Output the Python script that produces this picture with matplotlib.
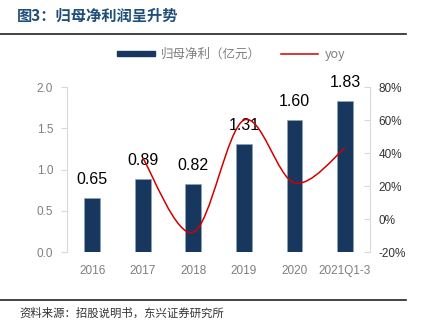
import numpy as np
import matplotlib.pyplot as plt
from matplotlib.path import Path
from matplotlib.patches import PathPatch
from matplotlib.lines import Line2D

plt.rcParams['font.family'] = ['Liberation Sans', 'Noto Sans CJK SC', 'DejaVu Sans']

years = ['2016', '2017', '2018', '2019', '2020', '2021Q1-3']
profit = [0.65, 0.89, 0.82, 1.31, 1.60, 1.83]
yoy = [37, -8, 60, 22, 43]  # 从2017开始, %

bar_color = '#17375E'
red = '#D00000'
grey = '#7F7F7F'

fig = plt.figure(figsize=(4.24, 3.30), dpi=100)
ax = fig.add_axes([0.158, 0.236, 0.715, 0.50])
x = np.arange(len(years))
ax.bar(x, profit, width=0.31, color=bar_color, edgecolor='#8EA3BD', linewidth=0.5, zorder=2)
for xi, v in zip(x, profit):
    ax.annotate(f'{v:.2f}', (xi, v), xytext=(0, 8), textcoords='offset points',
                ha='center', va='bottom', fontsize=11.5, color='black', zorder=5)

ax.set_xlim(-0.5, len(years) - 0.5)
ax.set_ylim(0, 2.0)
ax.set_yticks([0, 0.5, 1.0, 1.5, 2.0])
ax.set_yticklabels(['0.0', '0.5', '1.0', '1.5', '2.0'])
ax.set_xticks(x)
ax.set_xticklabels(years)
ax.tick_params(axis='y', colors='#D9D9D9', labelcolor=grey, labelsize=8.5, length=4, pad=6)
ax.tick_params(axis='x', length=0, labelcolor=grey, labelsize=8.5, pad=9)
for s in ['top', 'bottom', 'right']:
    ax.spines[s].set_visible(False)
ax.spines['left'].set_color('#D9D9D9')

ax2 = ax.twinx()
ax2.set_ylim(-20, 80)
ax2.set_yticks([-20, 0, 20, 40, 60, 80])
ax2.set_yticklabels([f'{t}%' for t in [-20, 0, 20, 40, 60, 80]])
ax2.tick_params(axis='y', colors='#D9D9D9', labelcolor='#333333', labelsize=8.5,
                length=4, direction='in', pad=6)
for s in ['top', 'bottom', 'left']:
    ax2.spines[s].set_visible(False)
ax2.spines['right'].set_color('#D9D9D9')

# 平滑曲线 (Catmull-Rom -> Bezier)
px = list(x[1:])
py = list(yoy)
verts = [(px[0], py[0])]
codes = [Path.MOVETO]
n = len(px)
for i in range(n - 1):
    p0 = (px[max(i - 1, 0)], py[max(i - 1, 0)])
    p1 = (px[i], py[i])
    p2 = (px[i + 1], py[i + 1])
    p3 = (px[min(i + 2, n - 1)], py[min(i + 2, n - 1)])
    c1 = (p1[0] + (p2[0] - p0[0]) / 6, p1[1] + (p2[1] - p0[1]) / 6)
    c2 = (p2[0] - (p3[0] - p1[0]) / 6, p2[1] - (p3[1] - p1[1]) / 6)
    verts += [c1, c2, p2]
    codes += [Path.CURVE4] * 3
ax2.add_patch(PathPatch(Path(verts, codes), fill=False, edgecolor=red, linewidth=1.1, zorder=3))

# 图例
handles = [plt.Rectangle((0, 0), 1, 1, color=bar_color),
           Line2D([], [], color=red, linewidth=1.1)]
leg = fig.legend(handles, ['归母净利（亿元）', 'yoy'], loc='center', bbox_to_anchor=(0.545, 0.835),
                 ncol=2, frameon=False, fontsize=9, handlelength=3.0, handleheight=0.3,
                 columnspacing=1.6, handletextpad=0.5)
for t in leg.get_texts():
    t.set_color(grey)
    t.set_family(['Noto Sans CJK SC', 'DejaVu Sans'])

# 标题和来源
fig.text(0.04, 0.953, '图3：归母净利润呈升势', fontsize=11, fontweight='bold', color='#1F4E79',
         family=['Noto Sans CJK SC', 'DejaVu Sans'], va='center')
fig.add_artist(Line2D([0, 0.958], [0.898, 0.898], color='#222222', linewidth=1.2))
fig.add_artist(Line2D([0, 0.958], [0.092, 0.092], color='#222222', linewidth=1.2))
fig.text(0.045, 0.05, '资料来源：招股说明书，东兴证券研究所', fontsize=8.2, color='#333333',
         family=['Noto Sans CJK SC', 'DejaVu Sans'], va='center', style='italic')

fig.savefig('out.png', dpi=100)
